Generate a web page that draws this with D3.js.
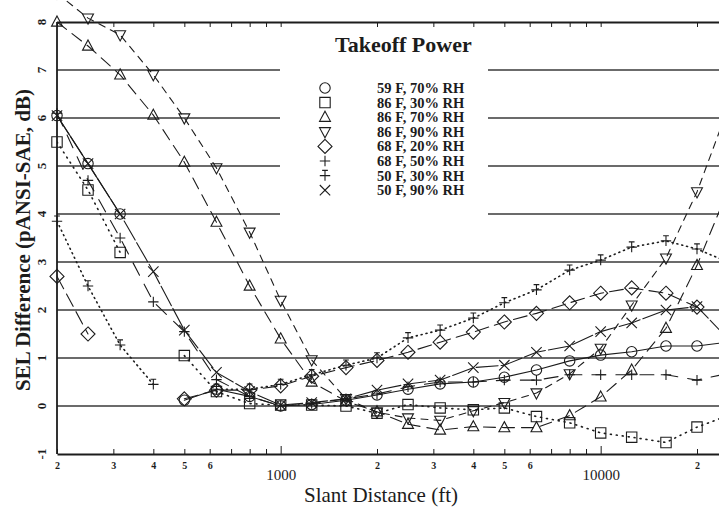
<!DOCTYPE html>
<html>
<head>
<meta charset="utf-8">
<script src="https://cdn.jsdelivr.net/npm/d3@7"></script>
<style>
    body { margin: 0; background: #fff; }
    svg { display: block; font-family: "Liberation Serif", "Times New Roman", serif; }
</style>
</head>
<body>
<div class="chart-box"></div>
<script>
// ---------------------------//
//            DATA            //
// ---------------------------//
const distances = [200, 250, 315, 400, 500, 630, 800, 1000, 1250, 1600, 2000, 2500,
                   3150, 4000, 5000, 6300, 8000, 10000, 12500, 16000, 20000, 25000];

const f59rh70 = [6.05, 5.05, 4.0, null, 0.12, 0.35, 0.2, 0.0, 0.03, 0.12, 0.23, 0.35,
                 0.46, 0.5, 0.6, 0.75, 0.94, 1.06, 1.13, 1.25, 1.25, 1.33];
const f86rh30 = [5.5, 4.5, 3.2, null, 1.05, 0.3, 0.05, 0.02, 0.02, 0.0, -0.15, 0.03,
                 -0.04, -0.08, -0.04, -0.22, -0.35, -0.56, -0.65, -0.76, -0.44, -0.2];
const f86rh70 = [8.0, 7.5, 6.9, 6.06, 5.08, 3.83, 2.5, 1.4, 0.5, 0.1, -0.12, -0.38,
                 -0.5, -0.43, -0.45, -0.45, -0.2, 0.19, 0.75, 1.62, 2.93, 4.5];
const f86rh90 = [8.6, 8.08, 7.73, 6.9, 6.0, 4.96, 3.62, 2.2, 0.96, 0.15, -0.13, -0.25,
                 -0.3, -0.1, 0.07, 0.27, 0.67, 1.2, 2.1, 3.08, 4.46, 6.2];
const f68rh20 = [2.7, 1.5, null, null, 0.15, 0.33, 0.33, 0.42, 0.62, 0.8, 0.95, 1.12,
                 1.33, 1.54, 1.75, 1.93, 2.15, 2.35, 2.46, 2.35, 2.06, null];
const f68rh50 = [6.1, 4.7, 3.5, 2.17, 1.55, 0.55, 0.2, 0.0, 0.05, 0.15, 0.25, 0.4,
                 0.5, 0.5, 0.54, 0.54, 0.65, 0.65, 0.65, 0.65, 0.54, 0.68];
const f50rh30 = [3.85, 2.5, 1.27, 0.45, null, 0.35, 0.35, 0.45, 0.65, 0.85, 1.0, 1.42,
                 1.58, 1.83, 2.15, 2.42, 2.83, 3.04, 3.31, 3.44, 3.27, 3.0];
const f50rh90 = [6.05, 5.05, 4.0, 2.8, 1.58, 0.7, 0.3, 0.02, 0.07, 0.15, 0.33, 0.46,
                 0.54, 0.8, 0.85, 1.12, 1.25, 1.55, 1.73, 2.0, 2.07, 1.4];

const seriesLabels = ["59 F, 70% RH", "86 F, 30% RH", "86 F, 70% RH", "86 F, 90% RH",
                      "68 F, 20% RH", "68 F, 50% RH", "50 F, 30% RH", "50 F, 90% RH"];
const seriesValues = [f59rh70, f86rh30, f86rh70, f86rh90, f68rh20, f68rh50, f50rh30, f50rh90];
const seriesMarkers = ["circle", "square", "triUp", "triDown", "diamond", "plus", "dplus", "cross"];
const seriesDash = ["none", "1,5", "12,7", "7,6", "14,6", "14,10", "1,4", "22,3"];

const yTicks = [-1, 0, 1, 2, 3, 4, 5, 6, 7, 8];
const xTicks = [200, 300, 400, 500, 600, 700, 800, 900, 1000, 2000, 3000, 4000, 5000,
                6000, 7000, 8000, 9000, 10000, 20000];
const xTickLabels = ["2", "3", "4", "5", "6", "", "", "", "1000", "2", "3", "4", "5",
                     "6", "", "", "", "10000", "2"];

// ---------------------------//
//          LAYOUT            //
// ---------------------------//
const WIDTH = 719, HEIGHT = 509;
const LEFT = 57, TOP = 22, BOTTOM = 454;
const INK = "#1c1c1c";

const svg = d3.select(".chart-box").append("svg")
    .attr("width", WIDTH)
    .attr("height", HEIGHT);

const x = d3.scaleLog().domain([200, 25000]).range([LEFT, LEFT + 320 * Math.log10(125)]);
const y = d3.scaleLinear().domain([-1, 8]).range([BOTTOM, TOP]);

// ---------------------------//
//         GRID LINES         //
// ---------------------------//
const grid = svg.append("g");
yTicks.filter(v => v >= 0 && v <= 7).forEach(v => {
    // lines 4..7 are interrupted by the legend box
    const parts = v >= 4 ? [[LEFT, 280], [488, WIDTH]] : [[LEFT, WIDTH]];
    parts.forEach(p => {
        grid.append("line")
            .attr("x1", p[0]).attr("x2", p[1])
            .attr("y1", y(v)).attr("y2", y(v))
            .attr("stroke", "#3a3a3a")
            .attr("stroke-width", 1.3);
    });
});

// ---------------------------//
//            AXES            //
// ---------------------------//
const bottomAxis = svg.append("g")
    .attr("transform", `translate(0,${y(-1)})`)
    .call(d3.axisBottom(x).tickValues(xTicks).tickSizeInner(-5).tickSizeOuter(0)
        .tickFormat((d, i) => xTickLabels[i]));
bottomAxis.select(".domain").attr("stroke", INK).attr("stroke-width", 1.8);
bottomAxis.selectAll(".tick line").attr("stroke", INK)
    .attr("y2", d => (d === 1000 || d === 10000) ? -8 : -5);
bottomAxis.selectAll(".tick text")
    .attr("fill", INK)
    .attr("font-family", "Liberation Serif, serif")
    .attr("dy", 0)
    .attr("y", d => (d === 1000 || d === 10000) ? 26 : 15)
    .attr("font-size", d => (d === 1000 || d === 10000) ? 15 : 10)
    .attr("font-weight", d => (d === 1000 || d === 10000) ? "normal" : "bold");

const topAxis = svg.append("g")
    .attr("transform", `translate(0,${y(8)})`)
    .call(d3.axisTop(x).tickValues(xTicks).tickSizeInner(-5).tickSizeOuter(0).tickFormat(""));
topAxis.select(".domain").attr("stroke", INK).attr("stroke-width", 1.8);
topAxis.selectAll(".tick line").attr("stroke", INK);

svg.append("line")
    .attr("x1", LEFT).attr("x2", LEFT)
    .attr("y1", y(8)).attr("y2", y(-1))
    .attr("stroke", INK).attr("stroke-width", 1.8);

svg.append("g").selectAll("text")
    .data(yTicks)
    .enter()
    .append("text")
    .attr("transform", d => `translate(46,${y(d)}) rotate(-90)`)
    .attr("text-anchor", "middle")
    .attr("font-size", 13)
    .attr("font-weight", "bold")
    .attr("fill", INK)
    .text(d => d);

svg.append("text")
    .attr("transform", `translate(30,240) rotate(-90)`)
    .attr("text-anchor", "middle")
    .attr("font-size", 21)
    .attr("font-weight", "bold")
    .attr("fill", INK)
    .text("SEL Difference (pANSI-SAE, dB)");

svg.append("text")
    .attr("x", 381).attr("y", 502)
    .attr("text-anchor", "middle")
    .attr("font-size", 21)
    .attr("fill", INK)
    .text("Slant Distance (ft)");

// ---------------------------//
//          MARKERS           //
// ---------------------------//
const markerPath = function(type) {
    const h = 5.2;
    switch (type) {
        case "circle":  return `M${h},0A${h},${h} 0 1,1 ${-h},0A${h},${h} 0 1,1 ${h},0Z`;
        case "square":  return `M${-h},${-h}H${h}V${h}H${-h}Z`;
        case "triUp":   return `M0,${-h * 1.15}L${h * 1.05},${h * 0.8}H${-h * 1.05}Z`;
        case "triDown": return `M0,${h * 1.15}L${h * 1.05},${-h * 0.8}H${-h * 1.05}Z`;
        case "diamond": return `M0,${-h * 1.35}L${h * 1.35},0L0,${h * 1.35}L${-h * 1.35},0Z`;
        case "plus":    return `M${-h},0H${h}M0,${-h}V${h}`;
        case "dplus":   return `M${-h},0H${h}M0,${-h}V${h}M${-h * 0.55},${-h}H${h * 0.55}`;
        case "cross":   return `M${-h},${-h}L${h},${h}M${h},${-h}L${-h},${h}`;
    }
};

// ---------------------------//
//           SERIES           //
// ---------------------------//
svg.append("clipPath").attr("id", "plotClip")
    .append("rect").attr("x", LEFT).attr("y", 0)
    .attr("width", WIDTH - LEFT).attr("height", BOTTOM);

const plot = svg.append("g").attr("clip-path", "url(#plotClip)");

const line = d3.line()
    .defined(d => d.v !== null)
    .x(d => x(d.d))
    .y(d => y(d.v));

seriesValues.forEach((vals, i) => {
    const pts = distances.map((d, j) => ({d: d, v: vals[j]}));
    plot.append("path")
        .datum(pts)
        .attr("d", line)
        .attr("fill", "none")
        .attr("stroke", INK)
        .attr("stroke-width", i === 1 || i === 6 ? 1.6 : 1.1)
        .attr("stroke-linecap", "round")
        .attr("stroke-dasharray", seriesDash[i]);

    svg.append("g").selectAll("path")
        .data(pts.filter(p => p.v !== null))
        .enter()
        .append("path")
        .attr("transform", p => `translate(${x(p.d)},${y(p.v)})`)
        .attr("d", markerPath(seriesMarkers[i]))
        .attr("fill", "none")
        .attr("stroke", INK)
        .attr("stroke-width", 1.1);
});

// ---------------------------//
//           LEGEND           //
// ---------------------------//
const legend = svg.append("g");
legend.append("text")
    .attr("x", 335).attr("y", 52)
    .attr("font-size", 22)
    .attr("font-weight", "bold")
    .attr("fill", INK)
    .text("Takeoff Power");

seriesLabels.forEach((lab, i) => {
    const cy = 88 + i * 14.6;
    legend.append("path")
        .attr("transform", `translate(325,${cy})`)
        .attr("d", markerPath(seriesMarkers[i]))
        .attr("fill", "none")
        .attr("stroke", INK)
        .attr("stroke-width", 1.1);
    legend.append("text")
        .attr("x", 377).attr("y", cy + 5)
        .attr("font-size", 14.5)
        .attr("font-weight", "bold")
        .attr("fill", INK)
        .text(lab);
});
</script>
</body>
</html>
